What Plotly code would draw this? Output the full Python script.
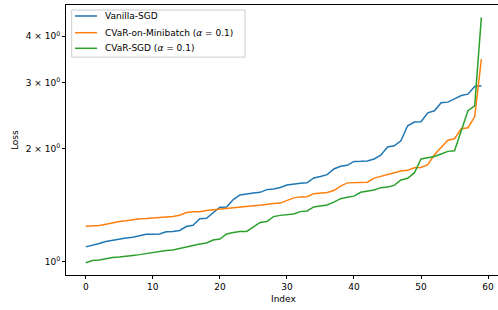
import plotly.graph_objects as go

index = list(range(60))

vanilla_sgd = [1.094, 1.103, 1.117, 1.131, 1.140, 1.145, 1.155, 1.161, 1.173, 1.182,
               1.183, 1.184, 1.200, 1.202, 1.210, 1.240, 1.250, 1.300, 1.305, 1.349,
               1.396, 1.398, 1.464, 1.506, 1.518, 1.525, 1.530, 1.556, 1.563, 1.577,
               1.600, 1.612, 1.618, 1.622, 1.672, 1.686, 1.706, 1.767, 1.796, 1.807,
               1.851, 1.853, 1.857, 1.879, 1.923, 2.022, 2.038, 2.102, 2.305, 2.358,
               2.362, 2.497, 2.528, 2.655, 2.666, 2.720, 2.776, 2.800, 2.934, 2.947]

cvar_minibatch = [1.242, 1.245, 1.247, 1.257, 1.268, 1.278, 1.284, 1.294, 1.300, 1.302,
                  1.303, 1.310, 1.314, 1.318, 1.329, 1.351, 1.357, 1.358, 1.368, 1.374,
                  1.384, 1.387, 1.390, 1.396, 1.402, 1.408, 1.413, 1.422, 1.428, 1.432,
                  1.456, 1.479, 1.488, 1.489, 1.518, 1.525, 1.528, 1.547, 1.590, 1.622,
                  1.624, 1.627, 1.629, 1.670, 1.690, 1.712, 1.732, 1.745, 1.752, 1.781,
                  1.784, 1.814, 1.929, 2.014, 2.109, 2.128, 2.263, 2.277, 2.436, 3.472]

cvar_sgd = [0.992, 1.006, 1.009, 1.019, 1.025, 1.028, 1.031, 1.038, 1.043, 1.050,
            1.060, 1.065, 1.070, 1.073, 1.084, 1.094, 1.105, 1.113, 1.120, 1.141,
            1.148, 1.184, 1.195, 1.202, 1.203, 1.236, 1.271, 1.278, 1.318, 1.328,
            1.335, 1.340, 1.359, 1.365, 1.399, 1.406, 1.415, 1.441, 1.472, 1.484,
            1.495, 1.531, 1.542, 1.553, 1.575, 1.581, 1.597, 1.652, 1.668, 1.724,
            1.879, 1.894, 1.909, 1.938, 1.969, 1.977, 2.235, 2.528, 2.606, 4.492]

series_names = ["Vanilla-SGD",
                "CVaR-on-Minibatch (<i>α</i> = 0.1)",
                "CVaR-SGD (<i>α</i> = 0.1)"]
colors = ["#1f77b4", "#ff7f0e", "#2ca02c"]

y_tickvals = [1, 2, 3, 4]
y_ticktext = ["10<sup>0</sup>", "2 × 10<sup>0</sup>", "3 × 10<sup>0</sup>", "4 × 10<sup>0</sup>"]
x_tickvals = [0, 10, 20, 30, 40, 50, 60]

font = dict(family="DejaVu Sans", size=9, color="#000000")

fig = go.Figure()
for name, vals, c in zip(series_names, [vanilla_sgd, cvar_minibatch, cvar_sgd], colors):
    fig.add_trace(go.Scatter(x=index, y=vals, mode="lines", name=name,
                             line=dict(color=c, width=1.5), showlegend=False))

# Manual legend (compact, matplotlib-like)
leg_rows_y = [0.9593, 0.8974, 0.8396]
fig.add_shape(type="rect", xref="paper", yref="paper",
              x0=0.0132, x1=0.4144, y0=0.807, y1=0.9815,
              line=dict(color="#cccccc", width=1), fillcolor="rgba(255,255,255,0.8)",
              layer="above")
for name, c, yy in zip(series_names, colors, leg_rows_y):
    fig.add_shape(type="line", xref="paper", yref="paper",
                  x0=0.0208, x1=0.0718, y0=yy, y1=yy,
                  line=dict(color=c, width=1.5), layer="above")
    fig.add_annotation(xref="paper", yref="paper", x=0.085, y=yy, text=name,
                       showarrow=False, xanchor="left", yanchor="middle", font=font)

# Axis titles
fig.add_annotation(xref="paper", yref="paper", x=0.5046, y=-0.089, text="Index",
                   showarrow=False, xanchor="center", yanchor="middle", font=font)
fig.add_annotation(xref="paper", yref="paper", x=-0.118, y=0.5, text="Loss",
                   textangle=-90, showarrow=False, xanchor="center", yanchor="middle",
                   font=font)

fig.update_layout(
    width=498, height=310,
    margin=dict(l=66, r=0, t=5, b=35),
    paper_bgcolor="white", plot_bgcolor="white",
    font=font,
    showlegend=False,
    hovermode=False,
)
fig.update_xaxes(
    range=[-2.95, 61.48], tickvals=x_tickvals, ticks="outside", ticklen=3,
    tickcolor="#000", showline=True, linecolor="#000", linewidth=1, mirror=True,
    showgrid=False, zeroline=False, automargin=False,
)
fig.update_yaxes(
    type="log", range=[-0.0362, 0.6855], tickvals=y_tickvals, ticktext=y_ticktext,
    ticks="outside", ticklen=3, tickcolor="#000", showline=True, linecolor="#000",
    linewidth=1, mirror=False, showgrid=False, zeroline=False, automargin=False,
)
fig.write_html("out.html", config={"displayModeBar": False, "staticPlot": True},
               post_script="document.body.style.margin='0';document.body.style.overflow='hidden';")
